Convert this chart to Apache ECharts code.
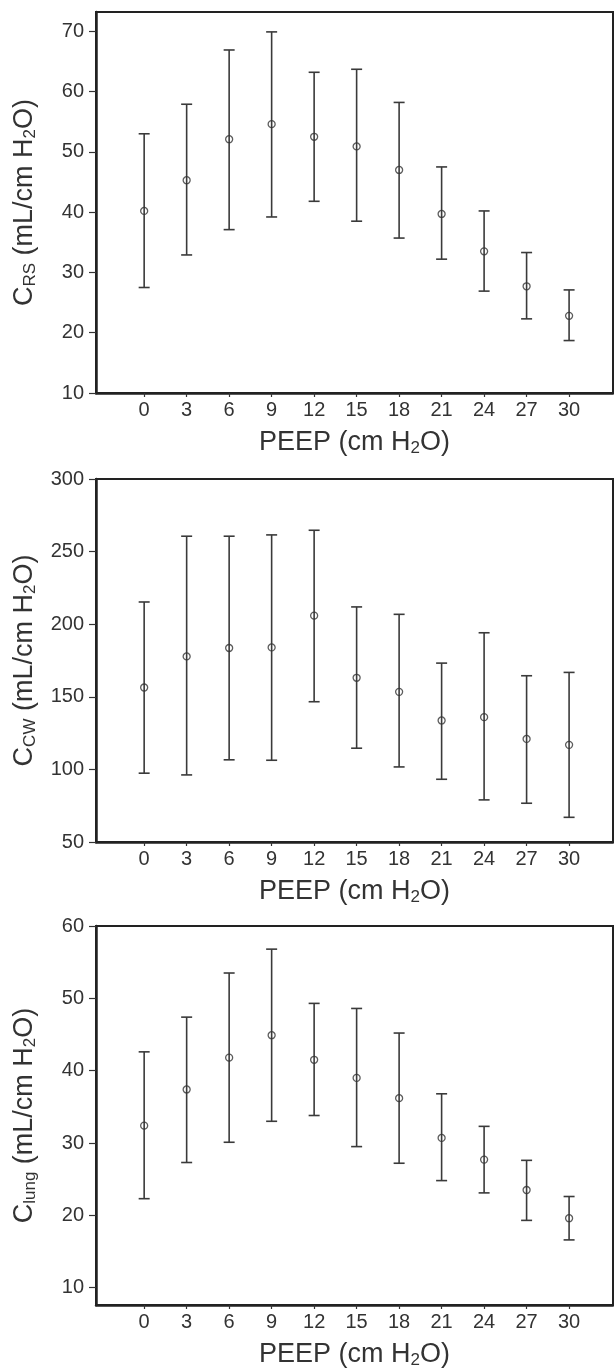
<!DOCTYPE html>
<html>
<head>
<meta charset="utf-8">
<script src="https://cdn.jsdelivr.net/npm/echarts@6/dist/echarts.min.js"></script>
<style>
  html, body { margin: 0; padding: 0; background: #fff; }
  #main { width: 614px; height: 1371px; }
</style>
</head>
<body>
<div id="main"></div>
<script>
// PEEP levels (cm H2O)
const peep = [0, 3, 6, 9, 12, 15, 18, 21, 24, 27, 30];

// respiratory system compliance
const crsMean = [40.2, 45.3, 52.1, 54.6, 52.5, 50.9, 47.0, 39.7, 33.5, 27.7, 22.8];
const crsLow  = [27.5, 32.9, 37.1, 39.2, 41.8, 38.5, 35.7, 32.2, 26.9, 22.3, 18.7];
const crsHigh = [53.0, 57.9, 66.9, 69.9, 63.2, 63.7, 58.2, 47.5, 40.2, 33.3, 27.1];

// chest wall compliance
const ccwMean = [156.4, 177.8, 183.6, 184.0, 205.9, 163.1, 153.4, 133.7, 136.0, 121.0, 116.9];
const ccwLow  = [97.4, 96.2, 106.6, 106.3, 146.6, 114.6, 101.7, 93.2, 79.0, 76.7, 67.0];
const ccwHigh = [215.3, 260.6, 260.6, 261.5, 264.7, 211.9, 206.8, 173.2, 194.1, 164.5, 166.8];

// lung compliance
const clungMean = [32.4, 37.4, 41.8, 44.9, 41.5, 39.0, 36.2, 30.7, 27.7, 23.5, 19.6];
const clungLow  = [22.3, 27.3, 30.1, 33.0, 33.8, 29.5, 27.2, 24.8, 23.1, 19.3, 16.6];
const clungHigh = [42.6, 47.4, 53.5, 56.8, 49.3, 48.6, 45.2, 36.8, 32.3, 27.6, 22.6];

// tick labels
const xTicks = [0, 3, 6, 9, 12, 15, 18, 21, 24, 27, 30];
const crsTicks = [10, 20, 30, 40, 50, 60, 70];
const ccwTicks = [50, 100, 150, 200, 250, 300];
const clungTicks = [10, 20, 30, 40, 50, 60];

const FONT = "'Liberation Sans', Arial, sans-serif";
const INK = '#333';

let chart = echarts.init(document.getElementById('main'));

const nameRich = {
  b: { fontSize: 27, lineHeight: 29, fontFamily: FONT, color: INK },
  s: { fontSize: 17, lineHeight: 12, fontFamily: FONT, color: INK, verticalAlign: 'bottom' }
};

function makeX(idx) {
  return {
    type: 'value', gridIndex: idx, min: -3.4, max: 33.1,
    splitLine: { show: false },
    axisLine: { onZero: false, lineStyle: { color: '#222', width: 2.5 } },
    axisTick: { customValues: xTicks, length: 4, lineStyle: { color: INK, width: 1.2 } },
    axisLabel: { customValues: xTicks, fontSize: 20, color: INK, fontFamily: FONT, margin: 7 },
    name: '{b|PEEP (cm H}{s|2}{b|O)}',
    nameLocation: 'middle', nameGap: 35,
    nameTextStyle: { rich: nameRich }
  };
}

function makeY(idx, min, max, ticks, sub) {
  return {
    type: 'value', gridIndex: idx, min: min, max: max,
    splitLine: { show: false },
    axisLine: { onZero: false, lineStyle: { color: '#222', width: 2.5 } },
    axisTick: { customValues: ticks, length: 7, lineStyle: { color: INK, width: 1.2 } },
    axisLabel: { customValues: ticks, fontSize: 20, color: INK, fontFamily: FONT, margin: 12 },
    name: '{b|C}{s|' + sub + '}{b| (mL/cm H}{s|2}{b|O)}',
    nameLocation: 'middle', nameGap: 57,
    nameTextStyle: { rich: nameRich }
  };
}

function errorBars(idx, low, high) {
  return {
    type: 'custom', xAxisIndex: idx, yAxisIndex: idx,
    data: peep.map((p, i) => [p, low[i], high[i]]),
    encode: { x: 0, y: [1, 2] },
    silent: true,
    renderItem: function (params, api) {
      let x = api.value(0);
      let lo = api.coord([x, api.value(1)]);
      let hi = api.coord([x, api.value(2)]);
      let w = 5.5;
      let style = { stroke: '#3a3a3a', lineWidth: 1.6 };
      return {
        type: 'group',
        children: [
          { type: 'line', shape: { x1: lo[0], y1: lo[1], x2: hi[0], y2: hi[1] }, style: style },
          { type: 'line', shape: { x1: lo[0] - w, y1: lo[1], x2: lo[0] + w, y2: lo[1] }, style: style },
          { type: 'line', shape: { x1: hi[0] - w, y1: hi[1], x2: hi[0] + w, y2: hi[1] }, style: style }
        ]
      };
    }
  };
}

function means(idx, vals) {
  return {
    type: 'scatter', xAxisIndex: idx, yAxisIndex: idx,
    data: peep.map((p, i) => [p, vals[i]]),
    symbol: 'circle', symbolSize: 7,
    silent: true,
    itemStyle: { color: 'rgba(0,0,0,0)', borderColor: '#333', borderWidth: 1.3 },
    z: 3
  };
}

let gridBase = { left: 96, right: 1, show: true, borderColor: '#222', borderWidth: 2, outerBoundsMode: 'none' };

let option = {
  animation: false,
  backgroundColor: '#fff',
  grid: [
    Object.assign({ top: 12, height: 381 }, gridBase),
    Object.assign({ top: 479, height: 363 }, gridBase),
    Object.assign({ top: 926, height: 379 }, gridBase)
  ],
  xAxis: [makeX(0), makeX(1), makeX(2)],
  yAxis: [
    makeY(0, 10, 73.2, crsTicks, 'RS'),
    makeY(1, 50, 300, ccwTicks, 'CW'),
    makeY(2, 7.6, 60, clungTicks, 'lung')
  ],
  series: [
    errorBars(0, crsLow, crsHigh), means(0, crsMean),
    errorBars(1, ccwLow, ccwHigh), means(1, ccwMean),
    errorBars(2, clungLow, clungHigh), means(2, clungMean)
  ]
};
chart.setOption(option);
</script>
</body>
</html>
